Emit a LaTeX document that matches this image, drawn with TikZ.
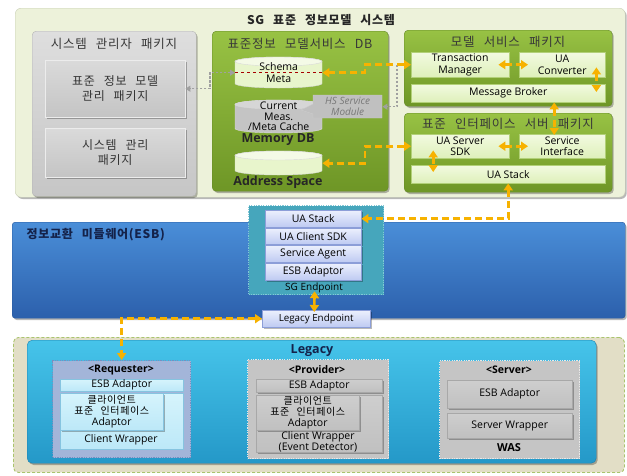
\documentclass[tikz,border=0pt]{standalone}
\usepackage{fontspec}
\setmainfont{Open Sans}
\newfontfamily\kr{Noto Sans CJK KR}[LetterSpace=6,WordSpace=2.6]
\usetikzlibrary{arrows.meta,shadows}

\definecolor{ora}{RGB}{247,178,0}
\definecolor{syspanel}{RGB}{237,242,218}
\definecolor{sysline}{RGB}{200,206,180}
\definecolor{gpkgT}{RGB}{222,222,222}
\definecolor{gpkgB}{RGB}{198,198,198}
\definecolor{gpkgL}{RGB}{180,180,180}
\definecolor{gboxT}{RGB}{218,218,218}
\definecolor{gboxB}{RGB}{196,196,196}
\definecolor{gboxL}{RGB}{236,236,236}
\definecolor{grnT}{RGB}{152,194,68}
\definecolor{grnB}{RGB}{110,150,38}
\definecolor{grnL}{RGB}{100,136,40}
\definecolor{lgT}{RGB}{242,250,224}
\definecolor{lgB}{RGB}{222,240,186}
\definecolor{lgL}{RGB}{178,208,120}
\definecolor{cylG}{RGB}{232,245,204}
\definecolor{cylGtop}{RGB}{244,250,230}
\definecolor{cylGray}{RGB}{196,196,196}
\definecolor{cylGraytop}{RGB}{214,214,214}
\definecolor{hsfill}{RGB}{192,192,192}
\definecolor{hstext}{RGB}{120,120,120}
\definecolor{linkgray}{RGB}{160,160,160}
\definecolor{esbT}{RGB}{74,142,216}
\definecolor{esbB}{RGB}{44,96,172}
\definecolor{esbL}{RGB}{40,88,156}
\definecolor{esbtxt}{RGB}{20,34,74}
\definecolor{sgfill}{RGB}{70,166,188}
\definecolor{sgline}{RGB}{130,200,214}
\definecolor{epT}{RGB}{236,240,253}
\definecolor{epB}{RGB}{190,202,242}
\definecolor{epL}{RGB}{140,158,216}
\definecolor{legbeige}{RGB}{226,222,198}
\definecolor{legdash}{RGB}{170,196,108}
\definecolor{cyT}{RGB}{70,196,234}
\definecolor{cyB}{RGB}{36,152,200}
\definecolor{cyL}{RGB}{30,128,174}
\definecolor{reqfill}{RGB}{163,181,217}
\definecolor{reqline}{RGB}{120,142,192}
\definecolor{cbT}{RGB}{214,244,252}
\definecolor{cbB}{RGB}{188,232,248}
\definecolor{cbL}{RGB}{134,196,224}
\definecolor{provfill}{RGB}{197,197,197}
\definecolor{provline}{RGB}{232,232,232}
\definecolor{pbT}{RGB}{206,206,206}
\definecolor{pbB}{RGB}{192,192,192}
\definecolor{pbL}{RGB}{168,168,168}

% box from (x1,y1) to (x2,y2): [options]{style}{name}{x1}{y1}{x2}{y2}{text}
\newcommand\mybox[8][]{%
  \pgfmathsetmacro\bw{#6-#4}\pgfmathsetmacro\bh{#7-#5}%
  \node[#2,anchor=north west,inner sep=0pt,align=center,
        minimum width=\bw pt,minimum height=\bh pt,#1] (#3) at (#4,#5) {#8};}

% upright cylinder: [text options]{name}{x1}{y1}{x2}{y2}{body colour}{top colour}{text}
\newcommand\mycyl[9][]{%
  \pgfmathsetmacro\cx{(#3+#5)/2}\pgfmathsetmacro\rx{(#5-#3)/2}%
  \filldraw[fill=#7,draw=white!85!black] (#3,#4+4.5) -- (#3,#6-4.5)
    arc[start angle=180,end angle=360,x radius=\rx pt,y radius=4.5pt]
    -- (#5,#4+4.5)
    arc[start angle=0,end angle=180,x radius=\rx pt,y radius=4.5pt] -- cycle;
  \filldraw[fill=#8,draw=white!85!black] (\cx,#4+4.5) ellipse[x radius=\rx pt,y radius=4.5pt];
  \mybox[#1]{}{#2}{#3}{#4}{#5}{#6}{#9}}

\begin{document}
\begin{tikzpicture}[x=1pt,y=-1pt,
  font=\fontsize{10.5}{11.5}\selectfont,
  shd/.style={drop shadow={shadow xshift=1.5pt,shadow yshift=-1.8pt,opacity=0.28,fill=black}},
  panel/.style={fill=syspanel,draw=sysline,rounded corners=6pt,shd},
  pkggray/.style={top color=gpkgT,bottom color=gpkgB,draw=gpkgL,rounded corners=4pt,shd},
  graybox/.style={top color=gboxT,bottom color=gboxB,draw=gboxL,shd,
    font=\kr\fontsize{12}{15.5}\selectfont,text=black!80},
  pkggreen/.style={top color=grnT,bottom color=grnB,draw=grnL,rounded corners=4pt,shd},
  greenbox/.style={top color=lgT,bottom color=lgB,draw=lgL},
  pkgtitle/.style={font=\kr\fontsize{12.5}{13}\selectfont,text=black!78},
  boldtitle/.style={font=\kr\bfseries\fontsize{12}{13}\selectfont,text=black!85},
  dbcap/.style={font=\bfseries\fontsize{12.5}{14}\selectfont,text=black!85},
  esbband/.style={top color=esbT,bottom color=esbB,draw=esbL,rounded corners=3pt,shd},
  sgbox/.style={fill=sgfill,draw=sgline,line width=1.2pt,dash pattern=on 1.2pt off 1.2pt},
  epbox/.style={top color=epT,bottom color=epB,draw=epL,shd,font=\fontsize{10.5}{11}\selectfont},
  legout/.style={fill=legbeige,draw=legdash,line width=0.9pt,dash pattern=on 3pt off 2pt,rounded corners=5pt},
  legin/.style={top color=cyT,bottom color=cyB,draw=cyL,rounded corners=5pt,shd},
  reqbox/.style={fill=reqfill,draw=reqline,line width=1.2pt,dash pattern=on 1.2pt off 1.2pt},
  cbox/.style={top color=cbT,bottom color=cbB,draw=cbL},
  provbox/.style={fill=provfill,draw=provline,line width=1.2pt,dash pattern=on 1.2pt off 1.2pt},
  pbox/.style={top color=pbT,bottom color=pbB,draw=pbL,shd},
  adapt/.style={font=\fontsize{10.5}{11}\selectfont},
  subhead/.style={font=\bfseries\fontsize{10.5}{11}\selectfont},
  oarrow/.style={draw=ora,line width=2.6pt,dash pattern=on 7pt off 4pt,
    {Triangle[length=7pt,width=9pt]}-{Triangle[length=7pt,width=9pt]}},
  glink/.style={draw=linkgray,line width=1.4pt,dash pattern=on 2.5pt off 1.5pt}
]
\useasboundingbox (0,0) rectangle (627,475);
\fill[white] (0,0) rectangle (627,475);

% ---------- SG standard information model system ----------
\mybox{panel}{sys}{15}{8}{625}{197}{}
\node[boldtitle] (systitle) at (321,20) {SG 표준 정보모델 시스템};

% system manager package
\mybox{pkggray}{mgr}{32}{31}{196}{196}{}
\node[pkgtitle] (mgrtitle) at (114,44) {시스템 관리자 패키지};
\mybox{graybox}{pm}{45}{60}{185}{117}{표준 정보 모델\\관리 패키지}
\mybox{graybox}{smg}{45}{128}{185}{177}{시스템 관리\\패키지}

% model service DB
\mybox{pkggreen}{db}{212}{31}{388}{191}{}
\node[pkgtitle] (dbtitle) at (300,44) {표준정보 모델서비스 DB};
\mycyl{sm}{235}{57}{322}{88}{cylG}{cylGtop}{Schema\\Meta}
\draw[red!65!black,dashed,line width=0.5pt] (sm.west) -- (sm.east);
\mycyl[font=\fontsize{10.5}{10.5}\selectfont]{cache}{235}{100}{322}{133}{cylGray}{cylGraytop}{Current\\Meas.\\/Meta Cache}
\node[dbcap] (memdb) at (278,140) {Memory DB};
\mycyl{as}{235}{151}{322}{175}{cylG}{cylGtop}{}
\node[dbcap] (astxt) at (278,182) {Address Space};

% HS service module callout
\filldraw[fill=hsfill,draw=white!80!black] (313,95) -- (382,95) -- (382,118) -- (313,118)
  -- (313,114) -- (301,110) -- (313,104) -- cycle;
\mybox[text=hstext,font=\itshape\fontsize{10}{11}\selectfont]{}{hs}{313}{95}{382}{118}{HS Service\\Module}

% model service package
\mybox{pkggreen}{svc}{404}{30}{612}{106}{}
\node[pkgtitle] (svctitle) at (508,42) {모델 서비스 패키지};
\mybox{greenbox}{tm}{411}{52}{509}{77}{Transaction\\Manager}
\mybox{greenbox}{uac}{519}{52}{605}{77}{UA\\Converter}
\mybox{greenbox}{mb}{411}{84}{605}{102}{Message Broker}

% standard interface server package
\mybox{pkggreen}{ifc}{404}{113}{612}{192}{}
\node[pkgtitle] (ifctitle) at (508,124) {표준 인터페이스 서버 패키지};
\mybox{greenbox}{sdk}{411}{134}{509}{158}{UA Server\\SDK}
\mybox{greenbox}{si}{519}{134}{605}{158}{Service\\Interface}
\mybox{greenbox}{uas}{411}{165}{605}{183}{UA Stack}

% ---------- ESB ----------
\mybox{esbband}{esb}{12}{222}{625}{318}{}
\node[boldtitle,text=esbtxt,anchor=west] (esbtitle) at (23,235) {정보교환 미들웨어(ESB)};
\mybox{sgbox}{sgep}{248}{205}{383}{294}{}
\mybox{epbox}{ep1}{265}{210}{361}{227}{UA Stack}
\mybox{epbox}{ep2}{265}{228}{361}{244}{UA Client SDK}
\mybox{epbox}{ep3}{265}{245}{361}{262}{Service Agent}
\mybox{epbox}{ep4}{265}{263}{361}{280}{ESB Adaptor}
\node[font=\fontsize{10}{11}\selectfont] (sgeptxt) at (314,288) {SG Endpoint};
\mybox[font=\fontsize{9.8}{10}\selectfont]{epbox}{legep}{262}{310}{370}{327}{Legacy Endpoint}

% ---------- Legacy ----------
\mybox{legout}{lego}{13}{337}{624}{472}{}
\mybox{legin}{legi}{27}{340}{596}{463}{}
\node[dbcap,text=esbtxt] (legtitle) at (312,351) {Legacy};

% requester
\mybox{reqbox}{req}{52}{360}{190}{457}{}
\node[subhead] (reqt) at (121,370) {<Requester>};
\mybox{cbox}{r1}{60}{379}{183}{391}{ESB Adaptor}
\mybox{cbox}{r2}{60}{393}{183}{449}{}
\node (r2t) at (121,440) {Client Wrapper};
\mybox[adapt]{cbox,shd}{r3}{60}{393}{163}{430}{{\kr\fontsize{10}{11}\selectfont 클라이언트}\\{\kr\fontsize{10}{11}\selectfont 표준 인터페이스}\\Adaptor}

% provider
\mybox{provbox}{prov}{247}{359}{388}{458}{}
\node[subhead] (provt) at (317,370) {<Provider>};
\mybox{pbox}{p1}{256}{379}{382}{392}{ESB Adaptor}
\mybox{pbox}{p2}{256}{395}{382}{452}{}
\node[align=center,font=\fontsize{10.5}{11}\selectfont] (p2t) at (318,442) {Client Wrapper\\(Event Detector)};
\mybox[adapt]{pbox}{p3}{256}{395}{359}{430}{{\kr\fontsize{10}{11}\selectfont 클라이언트}\\{\kr\fontsize{10}{11}\selectfont 표준 인터페이스}\\Adaptor}

% server
\mybox{provbox}{srv}{439}{360}{579}{458}{}
\node[subhead] (srvt) at (509,370) {<Server>};
\mybox{pbox}{s1}{447}{380}{572}{408}{ESB Adaptor}
\mybox{pbox}{s2}{447}{413}{572}{438}{Server Wrapper}
\node[font=\bfseries\fontsize{11}{12}\selectfont] (was) at (509,448) {WAS};

% ---------- connectors ----------
\coordinate (hsjoin) at (397,64.5);
\draw[glink,-{Triangle[length=5pt,width=6pt]}] (hsjoin) |- (hs.east);
\draw[glink,{Triangle[length=5pt,width=6pt]}-{Triangle[length=5pt,width=6pt]}]
  (sm.west) -- ++(-25,0) |- (pm.east);

\draw[oarrow] (tm.west) -- ++(-46,0) |- (sm.east);
\draw[oarrow] (sdk.west) -- ++(-46,0) |- (as.east);
\draw[oarrow] ([xshift=-11pt]tm.east) -- ([xshift=9pt]uac.west);
\draw[oarrow] ([shift={(-9,-10)}]uac.south east) -- ([shift={(-9,8)}]mb.north east);
\draw[oarrow] ([shift={(46,0)}]mb.south) -- ([shift={(-8,1)}]si.north);
\draw[oarrow] ([xshift=-11pt]sdk.east) -- ([xshift=9pt]si.west);
\draw[oarrow] ([shift={(-27,-8)}]sdk.south) -- ([shift={(-75,7)}]uas.north);
\draw[oarrow] (uas.south) |- (ep1.east);
\draw[oarrow] ([shift={(-1.5,-4)}]sgep.south) -- ([shift={(-2,2)}]legep.north);
\draw[oarrow] (legep.west) -| (req.north);
\end{tikzpicture}
\end{document}
